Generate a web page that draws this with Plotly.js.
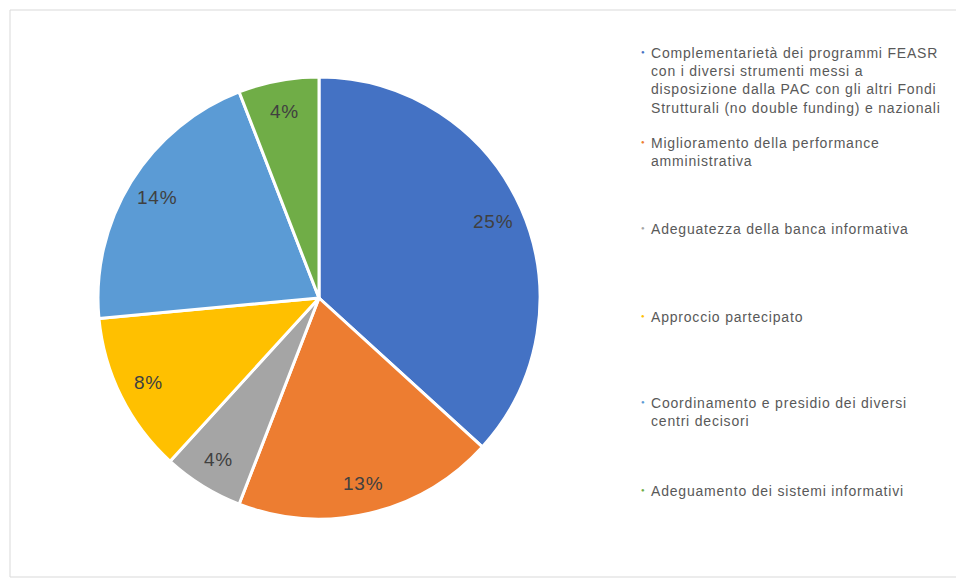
<!DOCTYPE html>
<html>
<head>
<meta charset="utf-8">
<script src="https://cdn.plot.ly/plotly-3.0.1.min.js"></script>
<style>
html,body{margin:0;padding:0;background:#fff;}
#chart{width:956px;height:578px;}
.annotation-text{letter-spacing:0.8px;}
</style>
</head>
<body>
<div id="chart"></div>
<script>
const categories = [
  "Complementarietà dei programmi FEASR<br>con i diversi strumenti messi a<br>disposizione dalla PAC con gli altri Fondi<br>Strutturali (no double funding) e nazionali",
  "Miglioramento della performance<br>amministrativa",
  "Adeguatezza della banca informativa",
  "Approccio partecipato",
  "Coordinamento e presidio dei diversi<br>centri decisori",
  "Adeguamento dei sistemi informativi"
];
const values = [25, 13, 4, 8, 14, 4];
const valueLabels = ["25%", "13%", "4%", "8%", "14%", "4%"];
const colors = ["#4472C4", "#ED7D31", "#A5A5A5", "#FFC000", "#5B9BD5", "#70AD47"];

const W = 956, H = 578;
const cx = 319, cy = 298, r = 221;

const trace = {
  type: "pie",
  labels: categories,
  values: values,
  text: valueLabels,
  textinfo: "none",
  sort: false,
  direction: "clockwise",
  rotation: 0,
  marker: { colors: colors, line: { color: "#ffffff", width: 3 } },
  hoverinfo: "label+text",
  showlegend: false,
  domain: { x: [(cx - r) / W, (cx + r) / W], y: [(H - cy - r) / H, (H - cy + r) / H] }
};

const annotations = [];

// data labels placed at ~0.86 of the radius, at each slice's mid-angle (derived from values)
const total = values.reduce((a, b) => a + b, 0);
let cum = 0;
values.forEach((v, i) => {
  const theta = 2 * Math.PI * (cum + v / 2) / total;
  cum += v;
  const px = cx + 0.86 * r * Math.sin(theta);
  const py = cy - 0.86 * r * Math.cos(theta);
  annotations.push({
    xref: "paper", yref: "paper", x: px / W, y: 1 - py / H,
    xanchor: "center", yanchor: "middle", showarrow: false,
    text: valueLabels[i],
    font: { family: "Liberation Sans, Arial, sans-serif", size: 19, color: "#404040" }
  });
});

const legendTops = [43, 133, 219, 307, 393, 481];
categories.forEach((c, i) => {
  annotations.push({
    xref: "paper", yref: "paper", x: 643 / W, y: 1 - (legendTops[i] + 9) / H,
    xanchor: "center", yanchor: "middle", showarrow: false,
    text: "●", font: { size: 6, color: colors[i] }
  });
  annotations.push({
    xref: "paper", yref: "paper", x: 649 / W, y: 1 - legendTops[i] / H,
    xanchor: "left", yanchor: "top", align: "left", showarrow: false,
    text: c, font: { family: "Liberation Sans, Arial, sans-serif", size: 14, color: "#595959" }
  });
});

const layout = {
  width: W, height: H,
  margin: { l: 0, r: 0, t: 0, b: 0 },
  paper_bgcolor: "#ffffff",
  showlegend: false,
  annotations: annotations,
  shapes: [{
    type: "rect", xref: "paper", yref: "paper",
    x0: 10 / W, x1: 1.01, y0: 1 / H, y1: 1 - 10 / H,
    line: { color: "#d9d9d9", width: 1 }, fillcolor: "rgba(0,0,0,0)"
  }]
};

Plotly.newPlot("chart", [trace], layout, { displayModeBar: false, staticPlot: true });
</script>
</body>
</html>
